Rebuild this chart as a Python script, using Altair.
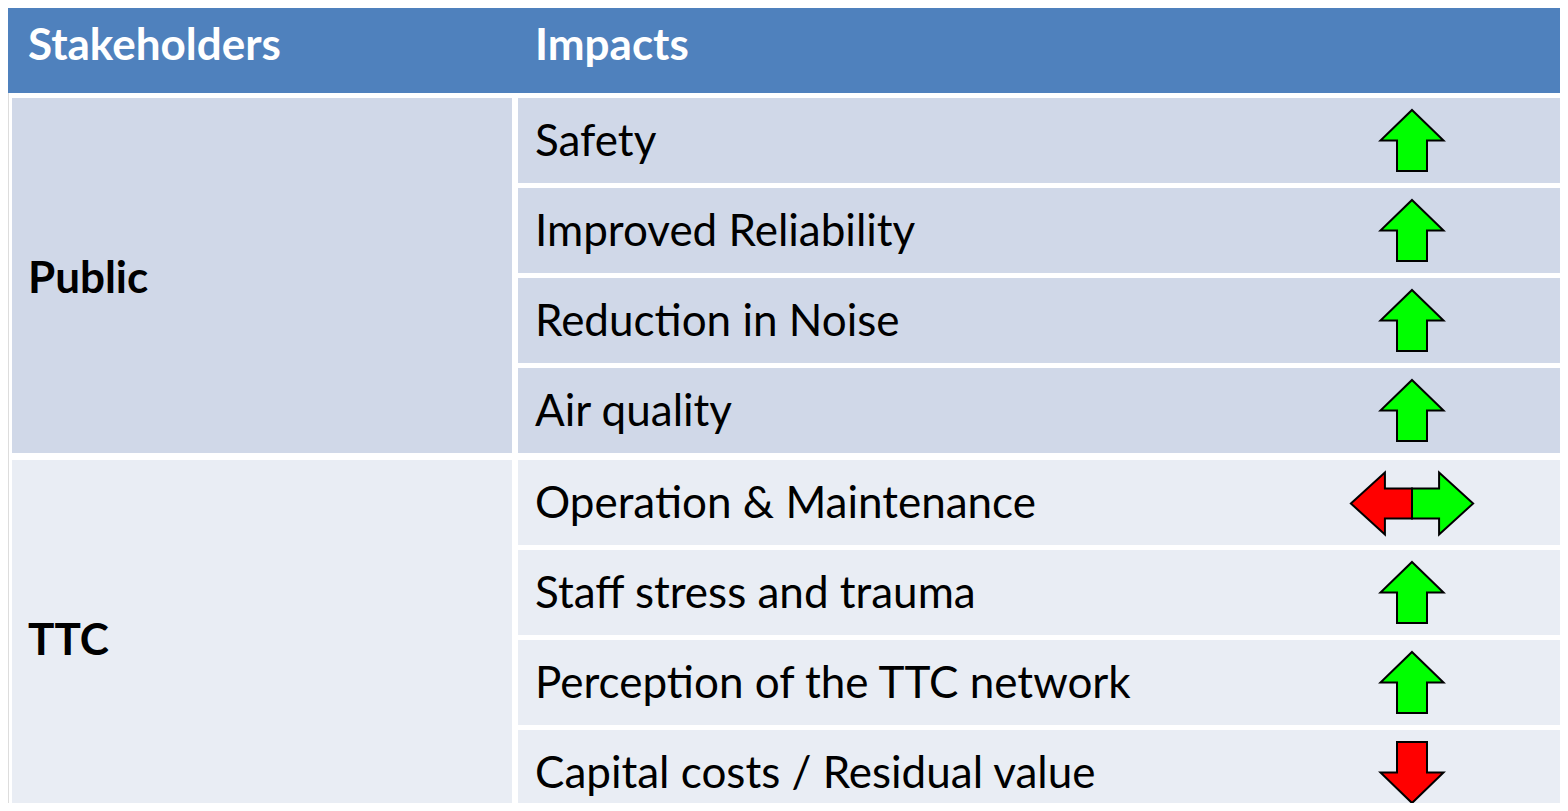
import altair as alt
import pandas as pd

# ---- content ----
header_labels = ["Stakeholders", "Impacts"]
stakeholders = ["Public", "TTC"]
group_of_row = [0, 0, 0, 0, 1, 1, 1, 1]
impacts = [
    "Safety",
    "Improved Reliability",
    "Reduction in Noise",
    "Air quality",
    "Operation & Maintenance",
    "Staff stress and trauma",
    "Perception of the TTC network",
    "Capital costs / Residual value",
]
directions = ["up", "up", "up", "up", "both", "up", "up", "down"]

# ---- styling / layout ----
HEADER_BLUE = "#4F81BD"
GROUP_FILL = ["#D0D8E8", "#E9EDF4"]
GREEN = "#00FF00"
RED = "#FF0000"
FONT = "Lato"
FS = 44

W, H = 1552, 795
X0, Y0 = 8, 8  # image offset of the plot area

HEADER_TOP, HEADER_BOT = 6, 93
LEFT_X0, LEFT_X1 = 12, 512
RIGHT_X0, RIGHT_X1 = 518, 1575
GROUP_TOP = [98, 460]
PITCH = 90
CELL_H = 85
ARROW_X = 1412

rects, texts, points = [], [], []
rects.append(dict(x=X0 - 5, x2=RIGHT_X1, y=HEADER_TOP, y2=HEADER_BOT, fill=HEADER_BLUE))
texts.append(dict(x=28, y=60, label=header_labels[0], weight="bold", color="white"))
texts.append(dict(x=535, y=60, label=header_labels[1], weight="bold", color="white"))

row_tops = []
counters = [0, 0]
for i, g in enumerate(group_of_row):
    top = GROUP_TOP[g] + PITCH * counters[g]
    counters[g] += 1
    row_tops.append(top)

for g, name in enumerate(stakeholders):
    tops = [row_tops[i] for i in range(len(impacts)) if group_of_row[i] == g]
    gt = tops[0]
    gb = tops[-1] + CELL_H
    rects.append(dict(x=LEFT_X0, x2=LEFT_X1, y=gt, y2=gb + (0 if g == 0 else 10), fill=GROUP_FILL[g]))
    texts.append(dict(x=28, y=(gt + gb) / 2 + 17, label=name, weight="bold", color="black"))

up = "M0,-0.97 L1,0 L0.476,0 L0.476,0.97 L-0.476,0.97 L-0.476,0 L-1,0 Z"
down = "M0,0.97 L1,0 L0.476,0 L0.476,-0.97 L-0.476,-0.97 L-0.476,0 L-1,0 Z"
left_half = "M-1.94,0 L-0.86,-0.98 L-0.86,-0.476 L0,-0.476 L0,0.476 L-0.86,0.476 L-0.86,0.98 Z"
right_half = "M1.94,0 L0.86,-0.98 L0.86,-0.476 L0,-0.476 L0,0.476 L0.86,0.476 L0.86,0.98 Z"

for i, (lab, d) in enumerate(zip(impacts, directions)):
    top = row_tops[i]
    g = group_of_row[i]
    rects.append(dict(x=RIGHT_X0, x2=RIGHT_X1, y=top, y2=top + CELL_H, fill=GROUP_FILL[g]))
    texts.append(dict(x=535, y=top + 58, label=lab, weight="normal", color="black"))
    cy = top + 42.5
    if d == "up":
        points.append(dict(x=ARROW_X, y=cy, shape=up, fill=GREEN))
    elif d == "down":
        points.append(dict(x=ARROW_X, y=cy, shape=down, fill=RED))
    else:
        points.append(dict(x=ARROW_X, y=cy + 1, shape=left_half, fill=RED))
        points.append(dict(x=ARROW_X, y=cy + 1, shape=right_half, fill=GREEN))

xs = alt.Scale(domain=[X0, X0 + W], nice=False, zero=False)
ys = alt.Scale(domain=[Y0, Y0 + H], nice=False, zero=False, reverse=True)

rect_layer = alt.Chart(pd.DataFrame(rects)).mark_rect(clip=True).encode(
    x=alt.X("x:Q", scale=xs, axis=None),
    x2="x2:Q",
    y=alt.Y("y:Q", scale=ys, axis=None),
    y2="y2:Q",
    fill=alt.Fill("fill:N", scale=None, legend=None),
)

tdf = pd.DataFrame(texts)
text_layers = []
for wgt in ["bold", "normal"]:
    sub = tdf[tdf.weight == wgt]
    text_layers.append(
        alt.Chart(sub).mark_text(
            align="left", baseline="alphabetic", font=FONT, fontSize=FS, fontWeight=wgt
        ).encode(
            x=alt.X("x:Q", scale=xs, axis=None),
            y=alt.Y("y:Q", scale=ys, axis=None),
            text="label:N",
            color=alt.Color("color:N", scale=None, legend=None),
        )
    )

point_layer = alt.Chart(pd.DataFrame(points)).mark_point(
    filled=True, size=63 * 63, stroke="black", strokeWidth=2, opacity=1, fillOpacity=1
).encode(
    x=alt.X("x:Q", scale=xs, axis=None),
    y=alt.Y("y:Q", scale=ys, axis=None),
    shape=alt.Shape("shape:N", scale=None, legend=None),
    fill=alt.Fill("fill:N", scale=None, legend=None),
)

chart = alt.layer(rect_layer, *text_layers, point_layer).properties(
    width=W, height=H, padding=0, autosize=alt.AutoSizeParams(type="none")
).configure_view(stroke=None).configure(background="white")

chart.save("out.html", embed_options={"renderer": "svg", "actions": False})
